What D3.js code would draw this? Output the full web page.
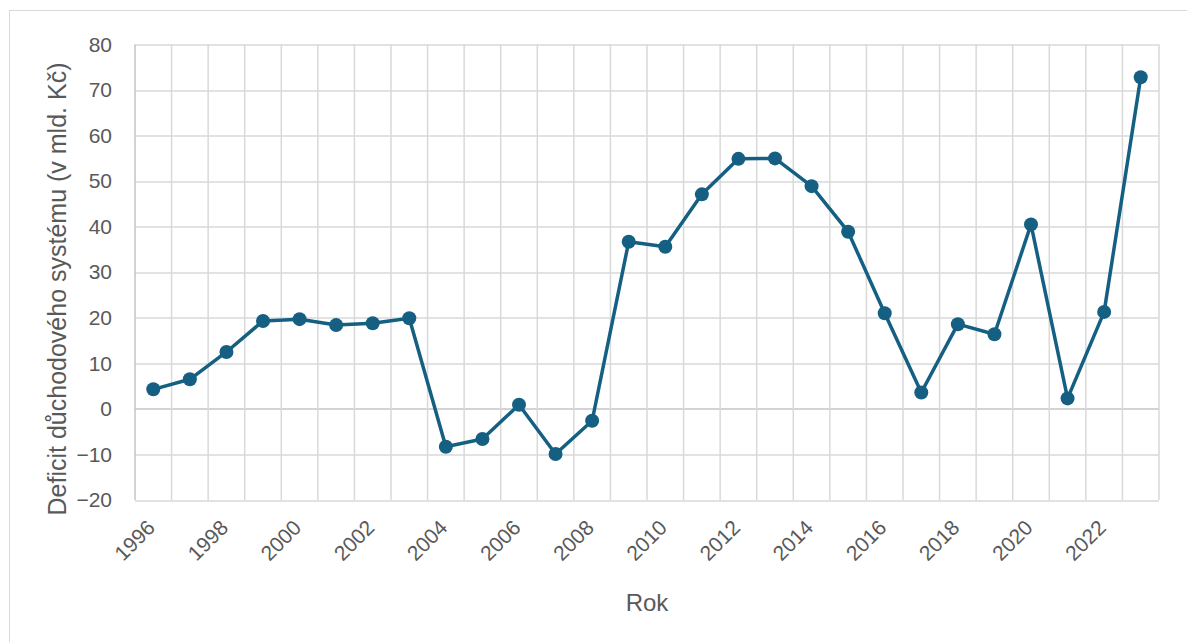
<!DOCTYPE html>
<html>
<head>
<meta charset="utf-8">
<script src="https://cdn.jsdelivr.net/npm/d3@7"></script>
<style>
  body { margin: 0; background: #fff; }
  text { font-family: "Liberation Sans", Arial, sans-serif; fill: #595959; }
</style>
</head>
<body>
<div id="chart"></div>
<script>
const years = [1996, 1997, 1998, 1999, 2000, 2001, 2002, 2003, 2004, 2005,
               2006, 2007, 2008, 2009, 2010, 2011, 2012, 2013, 2014, 2015,
               2016, 2017, 2018, 2019, 2020, 2021, 2022, 2023];
const deficit = [4.3, 6.5, 12.5, 19.3, 19.7, 18.4, 18.8, 19.9, -8.3, -6.6,
                 0.9, -9.9, -2.6, 36.7, 35.6, 47.1, 54.9, 55.0, 48.9, 38.9,
                 21.0, 3.6, 18.6, 16.4, 40.5, 2.3, 21.3, 72.8];
const yTicks = [-20, -10, 0, 10, 20, 30, 40, 50, 60, 70, 80];
const xLabelYears = years.filter(y => y % 2 === 0 && y <= 2022);

const W = 1187, H = 642;
const margin = {top: 44.5, right: 28, bottom: 142, left: 135};
const width = W - margin.left - margin.right,
      height = H - margin.top - margin.bottom;

const svg = d3.select("#chart")
  .append("svg")
    .attr("width", W)
    .attr("height", H);

// chart frame (runs off the right and bottom edges)
svg.append("rect")
  .attr("x", 9.5).attr("y", 10.5)
  .attr("width", W + 20).attr("height", H + 20)
  .attr("fill", "none")
  .attr("stroke", "#d9d9d9");

const g = svg.append("g")
  .attr("transform", `translate(${margin.left},${margin.top})`);

const x = d3.scaleBand()
  .domain(years)
  .range([0, width]);

const y = d3.scaleLinear()
  .domain([-20, 80])
  .range([height, 0]);

// horizontal gridlines
g.selectAll(".hgrid")
  .data(yTicks)
  .join("line")
    .attr("x1", 0).attr("x2", width)
    .attr("y1", d => Math.round(y(d)) + 0.5)
    .attr("y2", d => Math.round(y(d)) + 0.5)
    .attr("stroke", d => d === 0 ? "#c4c4c4" : "#d9d9d9")
    .attr("stroke-width", 1.5);

// vertical gridlines at category boundaries
const bounds = years.map(d => x(d)).concat([width]);
g.selectAll(".vgrid")
  .data(bounds)
  .join("line")
    .attr("x1", d => d).attr("x2", d => d)
    .attr("y1", 0).attr("y2", height)
    .attr("stroke", (d, i) => i === 0 ? "#c4c4c4" : "#d9d9d9")
    .attr("stroke-width", 1.5);

// y axis labels
g.append("g")
  .call(d3.axisLeft(y).tickValues(yTicks).tickSize(0).tickPadding(23))
  .call(a => a.select(".domain").remove())
  .selectAll("text")
    .style("font-size", "21px")
    .attr("fill", "#595959");

// x axis labels, every second year
g.selectAll(".xlab")
  .data(xLabelYears)
  .join("text")
    .attr("transform", d => `translate(${x(d) + x.bandwidth() / 2 + 3},${height + 29}) rotate(-45)`)
    .attr("text-anchor", "end")
    .style("font-size", "21px")
    .text(d => d);

// axis titles
svg.append("text")
  .attr("transform", `translate(66,289) rotate(-90)`)
  .attr("text-anchor", "middle")
  .style("font-size", "25px")
  .text("Deficit důchodového systému (v mld. Kč)");

svg.append("text")
  .attr("x", 647)
  .attr("y", 611)
  .attr("text-anchor", "middle")
  .style("font-size", "24px")
  .text("Rok");

// line + markers
const data = years.map((yr, i) => ({year: yr, value: deficit[i]}));
const line = d3.line()
  .x(d => x(d.year) + x.bandwidth() / 2)
  .y(d => y(d.value));

g.append("path")
  .datum(data)
  .attr("fill", "none")
  .attr("stroke", "#156082")
  .attr("stroke-width", 3.5)
  .attr("stroke-linejoin", "round")
  .attr("d", line);

g.selectAll(".dot")
  .data(data)
  .join("circle")
    .attr("cx", d => x(d.year) + x.bandwidth() / 2)
    .attr("cy", d => y(d.value))
    .attr("r", 7)
    .attr("fill", "#156082");
</script>
</body>
</html>
